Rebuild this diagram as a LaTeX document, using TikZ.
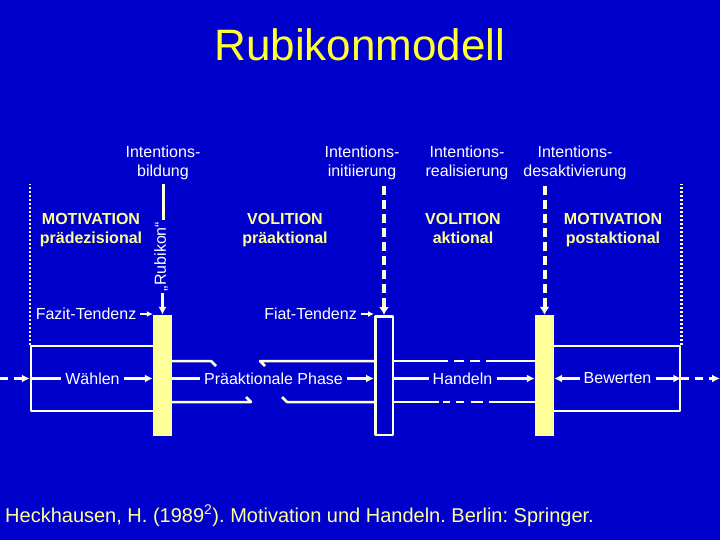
\documentclass[tikz,border=0pt]{standalone}
\usepackage{fontspec}
\setmainfont{Liberation Sans}
\usepackage{xcolor}
\usetikzlibrary{arrows.meta, positioning}

\definecolor{slideblue}{RGB}{0,0,204}
\definecolor{paleyellow}{RGB}{255,255,153}
\definecolor{titleyellow}{RGB}{255,255,51}
\definecolor{linecream}{RGB}{255,255,221}

\tikzset{
  lbl/.style={text=white, font=\fontsize{16}{19}\selectfont, inner sep=4pt},
  phase/.style={text=paleyellow, font=\fontsize{16}{19}\selectfont\bfseries, align=center, anchor=north, inner sep=0pt},
  wire/.style={draw=linecream, line width=2.5pt, line join=round},
  flow/.style={wire, -{Latex[length=8pt,width=8pt]}},
  tflow/.style={wire, line width=2pt, -{Latex[length=6pt,width=6pt]}},
  dflow/.style={flow, dash pattern=on 8pt off 6pt},
  gate/.style={wire, line width=4pt, dash pattern=on 9pt off 5pt, -{Latex[length=8pt,width=10pt]}},
  dotline/.style={wire, dash pattern=on 2pt off 2pt},
  yellowbar/.style={fill=paleyellow, minimum width=19pt, minimum height=121pt, inner sep=0pt},
  hollowbar/.style={wire, fill=slideblue, minimum width=17.5pt, minimum height=118.5pt, inner sep=0pt},
  frame/.style={wire, minimum height=65pt, inner sep=0pt},
}

\begin{document}
\begin{tikzpicture}[x=1pt, y=-1pt, >=Stealth]
  % ── Slide background ──────────────────────────────────────────
  \fill[slideblue] (0,0) rectangle (720,540);
  \useasboundingbox (0,0) rectangle (720,540);
  \node[text=titleyellow, font=\fontsize{44}{50}\selectfont, anchor=base] (title) at (360,61) {Rubikonmodell};
  % ── Transition labels on top ──────────────────────────────────
  \foreach \x/\nm/\wb in {163/ibild/bildung, 362/iinit/initiierung, 467/ireal/realisierung, 575/idesakt/desaktivierung} {
    \node[lbl, align=center] (\nm) at (\x,162.5) {Intentions-\\\wb};
  }
  % ── Phase names ───────────────────────────────────────────────
  \foreach \x/\nm/\wa/\wb in {91/pmot/MOTIVATION/prädezisional, 285/pvol/VOLITION/präaktional, 463/avol/VOLITION/aktional, 613/pomot/MOTIVATION/postaktional} {
    \node[phase] (\nm) at (\x,213.5) {\wa\\\wb};
  }
  % ── Boxes of the two motivational phases ──────────────────────
  \node[frame, minimum width=127pt] (wbox) at (94.5,378.5) {};
  \node[frame, minimum width=131pt] (bbox) at (614.5,378.5) {};
  % ── Transition bars ───────────────────────────────────────────
  \node[yellowbar] (rubikon) at (162.5,375.5) {};
  \node[hollowbar] (initbar) at (384,375.5) {};
  \node[yellowbar] (deaktbar) at (544.5,375.5) {};
  % ── Dotted borders of the model ───────────────────────────────
  \draw[dotline] (wbox.north west) -- (wbox.north west |- ibild.south);
  \draw[dotline] (bbox.north east) -- (bbox.north east |- ibild.south);
  % ── The Rubikon ───────────────────────────────────────────────
  \node[text=white, font=\fontsize{16}{19}\selectfont, rotate=90, inner sep=2pt] (rubtxt) at (161,256.5) {„Rubikon“};
  \draw[wire, line width=3pt] (ibild.south) -- (ibild.south |- rubtxt.east);
  \draw[flow, line width=3pt] (rubtxt.west -| rubikon) -- (rubikon.north);
  % ── Gates of initiation and deactivation ──────────────────────
  \draw[gate, shorten <=2pt] (iinit.south -| initbar) -- (initbar.north);
  \draw[gate, shorten <=2pt] (idesakt.south -| deaktbar) -- (deaktbar.north);
  % ── Tendencies ────────────────────────────────────────────────
  \node[lbl] (fazit) at (86,314) {Fazit-Tendenz};
  \draw[tflow] (fazit) -- (fazit -| rubikon.west);
  \node[lbl] (fiat) at (310.5,314) {Fiat-Tendenz};
  \draw[tflow] (fiat) -- (fiat -| initbar.west);
  % ── Main line through the phases ──────────────────────────────
  \coordinate (start) at (0,378.5);
  \coordinate (finish) at (720,378.5);
  \node[lbl] (waehlen) at (92.5,378.5) {Wählen};
  \node[lbl] (praeak) at (273.5,378.5) {Präaktionale Phase};
  \node[lbl] (handeln) at (462.5,378.5) {Handeln};
  \node[lbl] (bewerten) at (617.5,378.5) {Bewerten};
  \draw[dflow] (start) -- (wbox.west);
  \draw[wire] (wbox.west) -- (waehlen);
  \draw[flow] (waehlen) -- (waehlen -| rubikon.west);
  \draw[wire] (praeak -| rubikon.east) -- (praeak);
  \draw[flow] (praeak) -- (praeak -| initbar.west);
  \draw[wire] (handeln -| initbar.east) -- (handeln);
  \draw[flow] (handeln) -- (handeln -| deaktbar.west);
  \draw[flow] (bewerten) -- (bewerten -| deaktbar.east);
  \draw[flow] (bewerten) -- (bbox.east);
  \draw[dflow] (bbox.east) -- (finish);
  % ── Broken loop of the preactional phase ──────────────────────
  \coordinate (upl) at (211,361);
  \coordinate (lol) at (251,402);
  \coordinate (upr) at (260,361);
  \coordinate (lor) at (287,402);
  \draw[wire] (upl -| rubikon.east) -- (upl) -- ++(5,5);
  \draw[wire] (lol -| rubikon.east) -- (lol) -- ++(-5,-5);
  \draw[wire] (upr -| initbar.west) -- (upr) -- ++(5,5);
  \draw[wire] (lor -| initbar.west) -- (lor) -- ++(-5,-5);
  % ── Partly dashed lines of the actional phase ─────────────────
  \draw[wire, dash pattern=on 54pt off 6pt on 10pt off 6pt on 10pt off 6pt on 60pt]
    (upl -| initbar.east) -- (upl -| deaktbar.west);
  \draw[wire, dash pattern=on 45pt off 4pt on 7pt off 6pt on 8pt off 7pt on 12pt off 6pt on 60pt]
    (lol -| initbar.east) -- (lol -| deaktbar.west);
  % ── Reference ─────────────────────────────────────────────────
  \node[text=paleyellow, font=\fontsize{20}{24}\selectfont\frenchspacing, anchor=base west, inner sep=0pt] (cite) at (5,522)
    {Heckhausen, H. (1989\textsuperscript{2}). Motivation und Handeln. Berlin: Springer.};
\end{tikzpicture}
\end{document}
